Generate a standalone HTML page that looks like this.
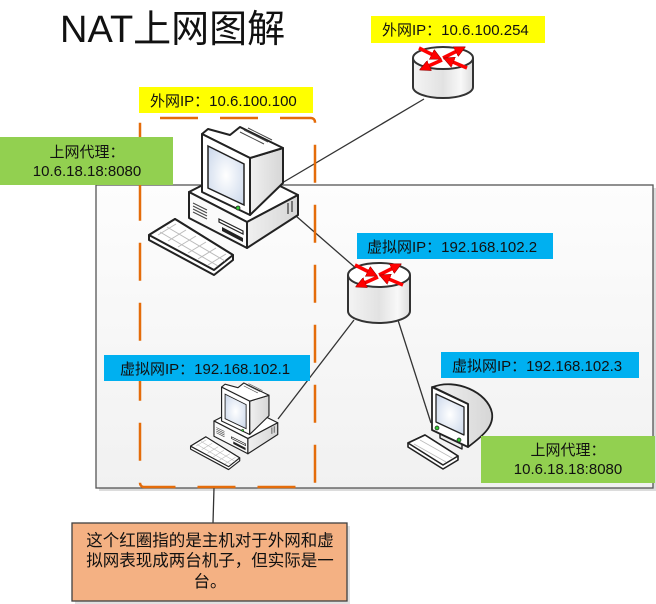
<!DOCTYPE html>
<html>
<head>
<meta charset="utf-8">
<style>
  html,body{margin:0;padding:0;background:#fff;}
  svg{display:block;}
  text{font-family:"Liberation Sans","Noto Sans CJK SC",sans-serif;fill:#111;}
</style>
</head>
<body>
<svg width="656" height="604" viewBox="0 0 656 604" xmlns="http://www.w3.org/2000/svg">
  <defs>
    <linearGradient id="bg" x1="0" y1="0" x2="0" y2="1">
      <stop offset="0" stop-color="#fdfdfd"/>
      <stop offset="1" stop-color="#f1f1f1"/>
    </linearGradient>
    <linearGradient id="rg" x1="0" y1="0" x2="1" y2="0">
      <stop offset="0" stop-color="#f4f4f4"/>
      <stop offset="0.5" stop-color="#e2e2e2"/>
      <stop offset="0.8" stop-color="#f8f8f8"/>
      <stop offset="1" stop-color="#dcdcdc"/>
    </linearGradient>
    <radialGradient id="scr" cx="0.5" cy="0.5" r="0.7">
      <stop offset="0" stop-color="#ffffff"/>
      <stop offset="1" stop-color="#c9d6ea"/>
    </radialGradient>
    <linearGradient id="side" x1="0" y1="0" x2="1" y2="0">
      <stop offset="0" stop-color="#f0f0f0"/>
      <stop offset="1" stop-color="#d6d6d6"/>
    </linearGradient>
    <marker id="ah" markerWidth="11" markerHeight="11" refX="6" refY="5.5" orient="auto" markerUnits="userSpaceOnUse">
      <polygon points="0,0 11,5.5 0,11" fill="#ff0000" stroke="#900" stroke-width="0.6"/>
    </marker>

    <g id="pc">
      <!-- keyboard -->
      <polygon points="149,235 175,219 233,255 233,260 214,275 149,240" fill="#fff" stroke="#222" stroke-width="2" stroke-linejoin="round"/>
      <polygon points="149,235 175,219 233,255 214,270" fill="#fff" stroke="#222" stroke-width="2" stroke-linejoin="round"/>
      <g stroke="#bbb" stroke-width="1">
        <line x1="158" y1="235" x2="176" y2="224"/>
        <line x1="168" y1="241" x2="186" y2="230"/>
        <line x1="178" y1="247" x2="196" y2="236"/>
        <line x1="188" y1="253" x2="206" y2="242"/>
        <line x1="198" y1="259" x2="216" y2="248"/>
        <line x1="208" y1="265" x2="226" y2="254"/>
        <line x1="160" y1="232" x2="218" y2="266"/>
        <line x1="167" y1="227" x2="225" y2="261"/>
      </g>
      <!-- case -->
      <polygon points="189,192 240,166 298,195 247,222" fill="#fff" stroke="#222" stroke-width="2" stroke-linejoin="round"/>
      <polygon points="189,192 247,222 247,248 189,218" fill="#fafafa" stroke="#222" stroke-width="2" stroke-linejoin="round"/>
      <polygon points="247,222 298,195 298,215 247,248" fill="url(#side)" stroke="#222" stroke-width="2" stroke-linejoin="round"/>
      <g stroke="#444" stroke-width="1">
        <line x1="193" y1="203" x2="207" y2="210"/>
        <line x1="193" y1="206" x2="207" y2="213"/>
        <line x1="193" y1="209" x2="207" y2="216"/>
        <line x1="193" y1="212" x2="207" y2="219"/>
      </g>
      <polygon points="219,219 243,231 243,234 219,222" fill="#fff" stroke="#222" stroke-width="1.2"/>
      <polygon points="222,227 243,238 243,242 222,231" fill="#222"/>
      <line x1="288" y1="203" x2="288" y2="214" stroke="#555" stroke-width="1.5"/>
      <line x1="292" y1="201" x2="292" y2="212" stroke="#555" stroke-width="1.5"/>
      <!-- monitor -->
      <polygon points="250,158 283,148 283,183 250,215" fill="url(#side)" stroke="#222" stroke-width="2" stroke-linejoin="round"/>
      <polygon points="202,134 208,129 230,135 240,127 283,148 250,158" fill="#fff" stroke="#222" stroke-width="2" stroke-linejoin="round"/>
      <g stroke="#444" stroke-width="1">
        <line x1="240" y1="132" x2="264" y2="144"/>
        <line x1="244" y1="130" x2="268" y2="142"/>
        <line x1="248" y1="128" x2="272" y2="140"/>
      </g>
      <polygon points="202,134 250,158 250,215 202,192" fill="#fff" stroke="#222" stroke-width="2" stroke-linejoin="round"/>
      <polygon points="208,146 244,164 244,205 208,188" fill="url(#scr)" stroke="#222" stroke-width="1.5"/>
      <circle cx="238" cy="208" r="2" fill="#3c3" stroke="#222" stroke-width="0.8"/>
    </g>

    <g id="arrows">
      <line x1="-24" y1="-10" x2="-6" y2="-1" stroke="#ff0000" stroke-width="3.5" marker-end="url(#ah)"/>
      <line x1="0" y1="0" x2="18" y2="-9" stroke="#ff0000" stroke-width="3.5" marker-end="url(#ah)"/>
      <line x1="-1" y1="2" x2="-19" y2="10" stroke="#ff0000" stroke-width="3.5" marker-end="url(#ah)"/>
      <line x1="24" y1="10" x2="5" y2="2" stroke="#ff0000" stroke-width="3.5" marker-end="url(#ah)"/>
    </g>
  </defs>

  <!-- title -->
  <text x="60" y="42" font-size="38">NAT上网图解</text>

  <!-- big virtual network box -->
  <rect x="99" y="188" width="557" height="303" fill="#dcdcdc"/>
  <rect x="96" y="185" width="557" height="303" fill="url(#bg)" stroke="#555" stroke-width="1.3"/>

  <!-- connectors -->
  <g stroke="#333" stroke-width="1.3" fill="none">
    <line x1="424" y1="99" x2="282" y2="183"/>
    <line x1="296" y1="216" x2="358" y2="270"/>
    <line x1="354" y1="320" x2="278" y2="419"/>
    <line x1="397" y1="317" x2="431" y2="423"/>
    <line x1="214" y1="488" x2="213" y2="523"/>
  </g>

  <!-- router 1 -->
  <g>
    <path d="M413,58 L413,87 A30,11 0 0 0 473,87 L473,58" fill="url(#rg)" stroke="#333" stroke-width="2"/>
    <ellipse cx="443" cy="58" rx="30" ry="11" fill="#fff" stroke="#333" stroke-width="2"/>
    <use href="#arrows" transform="translate(443,58)"/>
  </g>
  <!-- router 2 -->
  <g>
    <path d="M348,275 L348,311 A31,12 0 0 0 410,311 L410,275" fill="url(#rg)" stroke="#333" stroke-width="2"/>
    <ellipse cx="379" cy="275" rx="31" ry="12" fill="#fff" stroke="#333" stroke-width="2"/>
    <use href="#arrows" transform="translate(379,275)"/>
  </g>

  <!-- computers -->
  <use href="#pc"/>
  <use href="#pc" transform="translate(103.4,308.7) scale(0.585)"/>

  <!-- computer 3 (CRT) -->
  <g stroke-linejoin="round">
    <polygon points="408,443 425,435 458,456 458,460 443,469 408,447" fill="#fff" stroke="#222" stroke-width="1.6"/>
    <polygon points="408,443 425,435 458,456 443,465" fill="#fff" stroke="#222" stroke-width="1.6"/>
    <g stroke="#bbb" stroke-width="0.8">
      <line x1="414" y1="444" x2="446" y2="462"/>
      <line x1="420" y1="440" x2="452" y2="458"/>
    </g>
    <path d="M433,387 C455,378 488,392 492,413 C494,426 484,435 468,447 L468,404 Z" fill="url(#side)" stroke="#222" stroke-width="1.8"/>
    <polygon points="440,432 462,443 462,449 440,438" fill="#eee" stroke="#222" stroke-width="1.4"/>
    <polygon points="432,387 468,404 468,447 432,430" fill="#fff" stroke="#222" stroke-width="1.8"/>
    <polygon points="436,394 464,407 464,435 436,422" fill="url(#scr)" stroke="#222" stroke-width="1.3"/>
    <circle cx="437" cy="428" r="2" fill="#3c3" stroke="#222" stroke-width="0.7"/>
    <circle cx="459" cy="440" r="2" fill="#3c3" stroke="#222" stroke-width="0.7"/>
  </g>

  <!-- orange dashed host outline -->
  <rect x="140" y="118" width="175" height="369" rx="4" fill="none" stroke="#E46C0A" stroke-width="2.5" stroke-dasharray="38 22" stroke-dashoffset="44"/>

  <!-- labels -->
  <rect x="139" y="87" width="174" height="26" fill="#ffff00"/>
  <text x="150" y="106" font-size="15">外网IP：10.6.100.100</text>

  <rect x="371" y="16" width="174" height="27" fill="#ffff00"/>
  <text x="382" y="35" font-size="15">外网IP：10.6.100.254</text>

  <rect x="0" y="137" width="173" height="48" fill="#92D050"/>
  <text x="87" y="157" font-size="15" text-anchor="middle">上网代理：</text>
  <text x="87" y="176" font-size="15" text-anchor="middle">10.6.18.18:8080</text>

  <rect x="357" y="233" width="196" height="26" fill="#00B0F0"/>
  <text x="367" y="252" font-size="15">虚拟网IP：192.168.102.2</text>

  <rect x="104" y="355" width="206" height="26" fill="#00B0F0"/>
  <text x="120" y="374" font-size="15">虚拟网IP：192.168.102.1</text>

  <rect x="441" y="352" width="198" height="26" fill="#00B0F0"/>
  <text x="452" y="371" font-size="15">虚拟网IP：192.168.102.3</text>

  <rect x="481" y="436" width="174" height="47" fill="#92D050"/>
  <text x="568" y="455" font-size="15" text-anchor="middle">上网代理：</text>
  <text x="568" y="474" font-size="15" text-anchor="middle">10.6.18.18:8080</text>

  <!-- callout -->
  <rect x="75" y="526" width="275" height="78" fill="#e0e0e0"/>
  <rect x="72" y="523" width="275" height="78" fill="#F4B183" stroke="#404040" stroke-width="1.3"/>
  <text x="210" y="546" font-size="16.5" text-anchor="middle">这个红圈指的是主机对于外网和虚</text>
  <text x="210" y="566" font-size="16.5" text-anchor="middle">拟网表现成两台机子，但实际是一</text>
  <text x="210" y="587" font-size="16.5" text-anchor="middle">台。</text>
</svg>
</body>
</html>
